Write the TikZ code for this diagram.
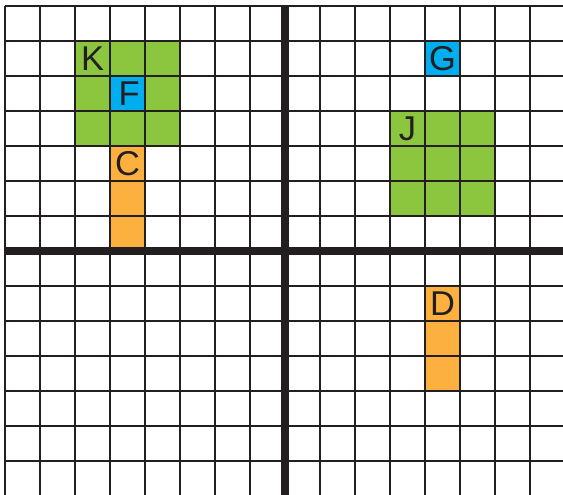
\documentclass[tikz,border=0pt]{standalone}
\usepackage{fontspec}
\setmainfont{Liberation Sans}
\definecolor{gridcol}{HTML}{231F20}
\definecolor{greenfill}{HTML}{8CC63F}
\definecolor{bluefill}{HTML}{00AEEF}
\definecolor{orangefill}{HTML}{FBB040}
\tikzset{
  gridline/.style={draw=gridcol, line width=1.3pt},
  axisline/.style={draw=gridcol, line width=6.3pt},
  letter/.style={inner sep=0pt, minimum size=1cm, text=gridcol, font=\fontsize{28}{28}\selectfont},
}
\begin{document}
\begin{tikzpicture}
\useasboundingbox (-8.143,-6.965) rectangle (7.943,7.171);
\fill[white] (-8.143,-6.965) rectangle (7.943,7.171);
% coloured cells
\fill[greenfill] (-6,3) rectangle (-3,6);
\fill[bluefill] (-5,4) rectangle (-4,5);
\fill[orangefill] (-5,0) rectangle (-4,3);
\fill[bluefill] (4,5) rectangle (5,6);
\fill[greenfill] (3,1) rectangle (6,4);
\fill[orangefill] (4,-4) rectangle (5,-1);
% grid
\draw[gridline] (-8,-7) grid (7.99,7);
% axes
\draw[axisline] (0,-7) -- (0,7);
\draw[axisline] (-8,0) -- (7.99,0);
% letters
\node[letter] (K) at (-5.5,5.5) {K};
\node[letter] (F) at (-4.45,4.5) {F};
\node[letter] (C) at (-4.5,2.5) {C};
\node[letter] (G) at (4.5,5.5) {G};
\node[letter] (J) at (3.5,3.5) {J};
\node[letter] (D) at (4.5,-1.5) {D};
\end{tikzpicture}
\end{document}
